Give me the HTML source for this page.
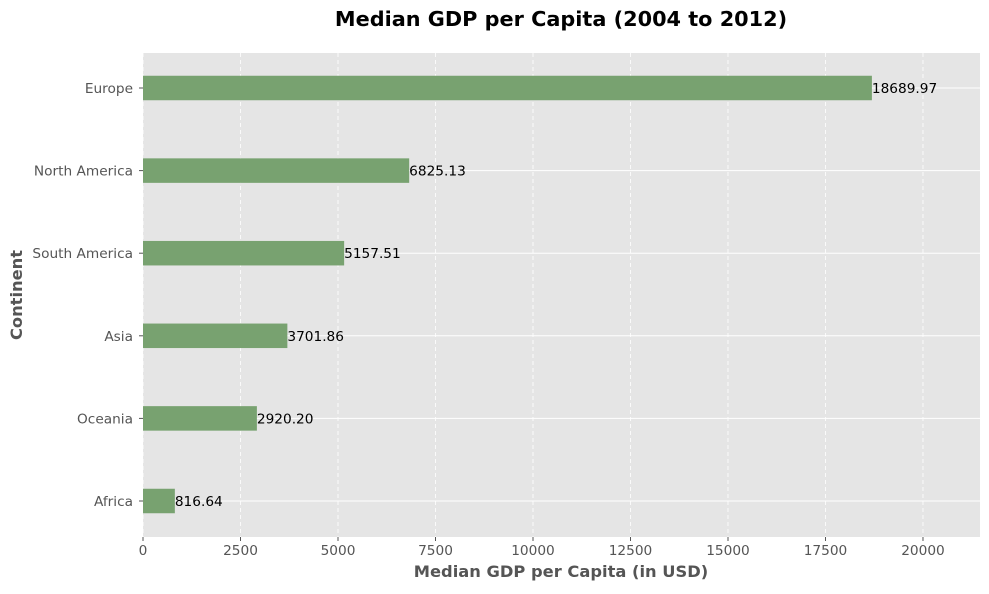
<!DOCTYPE html>
<html><head><meta charset="utf-8"><style>
body{margin:0;background:#fff;width:989px;height:590px;overflow:hidden;font-family:"DejaVu Sans","Liberation Sans",sans-serif}
svg text{font-family:"DejaVu Sans","Liberation Sans",sans-serif}
</style></head><body>
<svg id="chart" width="989" height="590" xmlns="http://www.w3.org/2000/svg">
<text x="561" y="26" text-anchor="middle" font-size="20.8" font-weight="bold" fill="#000">Median GDP per Capita (2004 to 2012)</text>
<rect x="143" y="53" width="837" height="484" fill="#e5e5e5"/>
<g id="grid"></g><g id="bars"></g><g id="axes"></g>
<text x="561" y="577" text-anchor="middle" font-size="16.3" font-weight="bold" fill="#555">Median GDP per Capita (in USD)</text>
<text transform="translate(22,295) rotate(-90)" text-anchor="middle" font-size="16.3" font-weight="bold" fill="#555">Continent</text>
</svg>
<script>
const categories=["Europe","North America","South America","Asia","Oceania","Africa"];
const values=[18689.97,6825.13,5157.51,3701.86,2920.20,816.64];
const xTicks=[0,2500,5000,7500,10000,12500,15000,17500,20000];
const NS="http://www.w3.org/2000/svg";
const X0=143,X1=980,Y0=53,Y1=537,XMAX=21462;
const xs=v=>X0+(X1-X0)*v/XMAX;
const n=categories.length;
const step=82.6;
const ys=i=>88+step*i;
function mk(t,a,p){const e=document.createElementNS(NS,t);for(const k in a)e.setAttribute(k,a[k]);p.appendChild(e);return e;}
const grid=document.getElementById('grid'),bars=document.getElementById('bars'),axes=document.getElementById('axes');
xTicks.forEach(t=>{
 const l=mk('line',{x1:xs(t),x2:xs(t),y1:Y0,y2:Y1,stroke:'#fff','stroke-dasharray':'4,3','stroke-width':0.8},grid);
 
 
 const tk=mk('line',{x1:xs(t),x2:xs(t),y1:Y1,y2:Y1+4,stroke:'#555'},axes);
 
 
 const tx=mk('text',{x:xs(t),y:Y1+18,'text-anchor':'middle','font-size':13.7,fill:'#555'},axes);
 tx.textContent=t;
 
 
});
categories.forEach((c,i)=>{
 const y=ys(i);
 const g=mk('line',{x1:X0,x2:X1,y1:y,y2:y,stroke:'#fff','stroke-width':1},grid);
 
 
 const bh=24.5;
 const r=mk('rect',{x:X0,y:y-bh/2,width:xs(values[i])-X0,height:bh,fill:'#78a270'},bars);
 
 
 const v=mk('text',{x:xs(values[i]),y:y+5,'font-size':13.7,fill:'#000'},bars);
 v.textContent=values[i].toFixed(2);
 
 
 const tk=mk('line',{x1:X0-4,x2:X0,y1:y,y2:y,stroke:'#555'},axes);
 
 
 const tl=mk('text',{x:X0-10,y:y+5,'text-anchor':'end','font-size':13.7,fill:'#555'},axes);
 tl.textContent=c;
 
 
});
</script>
</body></html>
